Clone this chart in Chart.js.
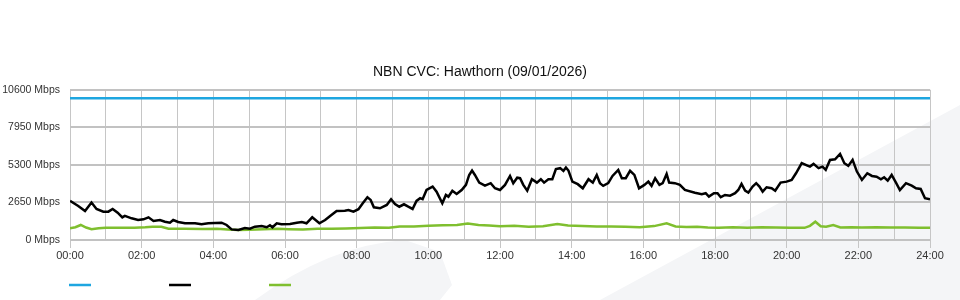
<!DOCTYPE html>
<html>
<head>
<meta charset="utf-8">
<title>NBN CVC: Hawthorn</title>
<script src="https://cdn.jsdelivr.net/npm/chart.js@4/dist/chart.umd.min.js"></script>
<style>
  html, body { margin: 0; padding: 0; background: #fff; }
  #wrap { width: 960px; height: 300px; position: relative; }
</style>
</head>
<body>
<div id="wrap"><canvas id="myChart" width="960" height="300"></canvas></div>
<script>
var chartTitle = "NBN CVC: Hawthorn (09/01/2026)";
var seriesNames = ["Capacity", "Download", "Upload"];
var yTicks = [0, 2650, 5300, 7950, 10600];

// capacity (Mbps)
var capHours = [0, 24];
var capacity = [10000, 10000];

// download (Mbps), hour of day
var dlHours = [0.00, 0.23, 0.42, 0.60, 0.74, 0.93, 1.07, 1.19, 1.33, 1.46, 1.53, 1.72, 1.90, 2.05, 2.19, 2.33, 2.51, 2.65, 2.79, 2.88,
  3.02, 3.21, 3.49, 3.67, 3.86, 4.23, 4.37, 4.51, 4.70, 4.88, 5.02, 5.16, 5.35, 5.49, 5.58, 5.65, 5.77, 5.90, 6.14, 6.33,
  6.47, 6.60, 6.76, 6.96, 7.12, 7.26, 7.44, 7.67, 7.77, 7.91, 8.05, 8.17, 8.30, 8.39, 8.48, 8.65, 8.84, 8.96, 9.07, 9.19,
  9.32, 9.44, 9.56, 9.67, 9.77, 9.84, 9.95, 10.12, 10.23, 10.39, 10.49, 10.56, 10.67, 10.79, 10.93, 11.05, 11.14, 11.22, 11.30, 11.42,
  11.58, 11.74, 11.86, 12.00, 12.14, 12.28, 12.37, 12.48, 12.56, 12.65, 12.76, 12.89, 13.03, 13.14, 13.23, 13.35, 13.46, 13.56, 13.68, 13.77,
  13.84, 13.91, 14.02, 14.17, 14.31, 14.47, 14.59, 14.70, 14.79, 14.88, 15.02, 15.14, 15.30, 15.40, 15.51, 15.63, 15.75, 15.88, 16.03, 16.14,
  16.23, 16.33, 16.45, 16.54, 16.65, 16.72, 16.88, 17.02, 17.16, 17.44, 17.63, 17.74, 17.83, 17.97, 18.07, 18.16, 18.28, 18.42, 18.56, 18.65,
  18.74, 18.84, 18.93, 19.05, 19.15, 19.24, 19.33, 19.44, 19.58, 19.68, 19.83, 20.00, 20.14, 20.26, 20.42, 20.58, 20.65, 20.75, 20.89, 21.00,
  21.09, 21.21, 21.35, 21.49, 21.61, 21.72, 21.84, 21.96, 22.10, 22.25, 22.38, 22.51, 22.63, 22.72, 22.82, 22.93, 23.05, 23.16, 23.33, 23.49,
  23.61, 23.74, 23.86, 24.00];
var download = [2760, 2400, 2040, 2640, 2190, 2000, 2000, 2190, 1930, 1600, 1700, 1530, 1410, 1460, 1600, 1340, 1410, 1290, 1220, 1410,
  1270, 1180, 1180, 1110, 1180, 1220, 1060, 750, 710, 850, 800, 940, 990, 900, 1040, 900, 1180, 1110, 1130, 1220,
  1270, 1180, 1600, 1180, 1410, 1700, 2050, 2070, 2120, 2000, 2170, 2590, 3020, 2830, 2310, 2240, 2470, 2880, 2540, 2350,
  2520, 2350, 2190, 2760, 2950, 2880, 3530, 3770, 3410, 2590, 3180, 3060, 3480, 3250, 3530, 3890, 4590, 4900, 4590, 4050,
  3840, 4010, 3650, 3530, 3890, 4520, 4010, 4400, 4360, 3890, 3480, 4290, 4050, 4290, 4050, 4290, 4290, 5000, 5070, 4880,
  5110, 4900, 4120, 3940, 3650, 4290, 4050, 4590, 4010, 3820, 4010, 4520, 4940, 4360, 4360, 4880, 4590, 3650, 3890, 4120,
  3820, 4360, 3890, 4010, 4660, 4050, 4010, 3890, 3530, 3340, 3230, 3300, 3060, 3300, 3300, 3020, 3180, 3130, 3300, 3530,
  3960, 3480, 3340, 3770, 4010, 3770, 3410, 3720, 3650, 3480, 4050, 4120, 4240, 4710, 5420, 5250, 5180, 5370, 5070, 5180,
  4950, 5650, 5700, 6080, 5420, 5230, 5650, 4830, 4240, 4710, 4520, 4470, 4290, 4430, 4190, 4590, 4050, 3530, 4010, 3840,
  3650, 3600, 2950, 2880];

// upload (Mbps), hour of day
var ulHours = [0.00, 0.15, 0.30, 0.45, 0.60, 0.80, 1.00, 1.40, 1.80, 2.10, 2.30, 2.55, 2.75, 3.20, 3.70, 4.10, 4.40, 4.70, 5.00, 5.40,
  5.80, 6.10, 6.50, 6.90, 7.30, 7.70, 8.10, 8.50, 8.90, 9.20, 9.60, 10.00, 10.40, 10.80, 11.10, 11.40, 11.70, 12.00, 12.40, 12.80,
  13.20, 13.60, 13.90, 14.30, 14.70, 15.10, 15.50, 15.90, 16.30, 16.65, 16.90, 17.20, 17.50, 17.80, 18.10, 18.50, 18.90, 19.30, 19.70, 20.10,
  20.50, 20.65, 20.80, 20.95, 21.10, 21.30, 21.50, 21.80, 22.10, 22.50, 22.90, 23.30, 23.70, 24.00];
var upload = [830, 900, 1060, 880, 760, 830, 860, 860, 860, 900, 940, 940, 790, 790, 780, 790, 740, 710, 720, 760,
  790, 760, 740, 790, 800, 820, 850, 880, 860, 950, 960, 1000, 1040, 1060, 1170, 1060, 1030, 970, 1000, 940,
  970, 1130, 1020, 990, 960, 960, 930, 900, 980, 1180, 960, 920, 930, 880, 870, 900, 870, 900, 880, 870,
  860, 1000, 1290, 970, 930, 1050, 880, 900, 880, 900, 890, 880, 870, 860];

var colors = ["#1ea6e0", "#000000", "#7fbf2f"];
var fontFamily = "'Liberation Sans', Arial, sans-serif";

function toPoints(xs, ys) {
  var out = [];
  for (var i = 0; i < xs.length; i++) {
    out.push({ x: xs[i], y: ys[i] });
  }
  return out;
}

function hh(v) {
  return (v < 10 ? "0" + v : "" + v) + ":00";
}

// light grey shapes behind the chart
var backdrop = {
  id: "backdrop",
  beforeDraw: function (chart) {
    var c = chart.ctx;
    c.save();
    c.fillStyle = "#f4f5f7";
    c.beginPath();
    c.moveTo(600, 300);
    c.lineTo(960, 105);
    c.lineTo(960, 300);
    c.closePath();
    c.fill();
    c.beginPath();
    c.moveTo(255, 300);
    c.quadraticCurveTo(330, 245, 405, 240);
    c.lineTo(440, 252);
    c.lineTo(452, 285);
    c.lineTo(440, 300);
    c.closePath();
    c.fill();
    c.restore();
  },
};

// legend swatches only (no text)
var swatches = {
  id: "swatches",
  afterDraw: function (chart) {
    var c = chart.ctx;
    c.save();
    chart.data.datasets.forEach(function (ds, i) {
      c.strokeStyle = ds.borderColor;
      c.lineWidth = 2.5;
      c.beginPath();
      c.moveTo(69 + i * 100, 285);
      c.lineTo(91 + i * 100, 285);
      c.stroke();
    });
    c.restore();
  },
};

var ctx = document.getElementById("myChart").getContext("2d");
var myChart = new Chart(ctx, {
  type: "line",
  data: {
    datasets: [
      {
        label: seriesNames[0],
        data: toPoints(capHours, capacity),
        borderColor: colors[0],
        borderWidth: 2.5,
        pointRadius: 0,
      },
      {
        label: seriesNames[1],
        data: toPoints(dlHours, download),
        borderColor: colors[1],
        borderWidth: 2.5,
        pointRadius: 0,
        tension: 0,
      },
      {
        label: seriesNames[2],
        data: toPoints(ulHours, upload),
        borderColor: colors[2],
        borderWidth: 2.5,
        pointRadius: 0,
        tension: 0,
      },
    ],
  },
  options: {
    responsive: false,
    animation: false,
    layout: { padding: 0 },
    plugins: {
      legend: { display: false },
      tooltip: { enabled: false },
      title: {
        display: true,
        text: chartTitle,
        color: "#111",
        font: { family: fontFamily, size: 14, weight: "normal" },
        padding: { top: 64, bottom: 9 },
      },
    },
    scales: {
      x: {
        type: "linear",
        min: 0,
        max: 24,
        afterFit: function (scale) {
          scale.height = 60;
        },
        border: { display: false },
        grid: {
          color: "#c6c6c6",
          lineWidth: 1,
          tickLength: 8,
          tickColor: function (c) {
            return c.tick && c.tick.value % 2 === 0 ? "#c6c6c6" : "rgba(0,0,0,0)";
          },
        },
        ticks: {
          stepSize: 1,
          autoSkip: false,
          maxRotation: 0,
          padding: 1,
          color: "#333",
          font: { family: fontFamily, size: 11 },
          callback: function (v) {
            return v % 2 === 0 ? hh(v) : "";
          },
        },
      },
      y: {
        min: yTicks[0],
        max: yTicks[yTicks.length - 1],
        afterFit: function (scale) {
          scale.width = 70;
        },
        afterBuildTicks: function (scale) {
          scale.ticks = yTicks.map(function (v) {
            return { value: v };
          });
        },
        border: { display: false },
        grid: {
          color: "#c2c2c2",
          lineWidth: 2,
          drawTicks: false,
        },
        ticks: {
          padding: 10,
          color: "#333",
          font: { family: fontFamily, size: 10.5 },
          callback: function (v) {
            return v + " Mbps";
          },
        },
      },
      // empty right-hand axis, keeps 30px free on the right
      yRight: {
        position: "right",
        min: yTicks[0],
        max: yTicks[yTicks.length - 1],
        afterFit: function (scale) {
          scale.width = 30;
        },
        border: { display: false },
        grid: { display: false },
        ticks: { display: false },
      },
    },
  },
  plugins: [backdrop, swatches],
});
</script>
</body>
</html>
